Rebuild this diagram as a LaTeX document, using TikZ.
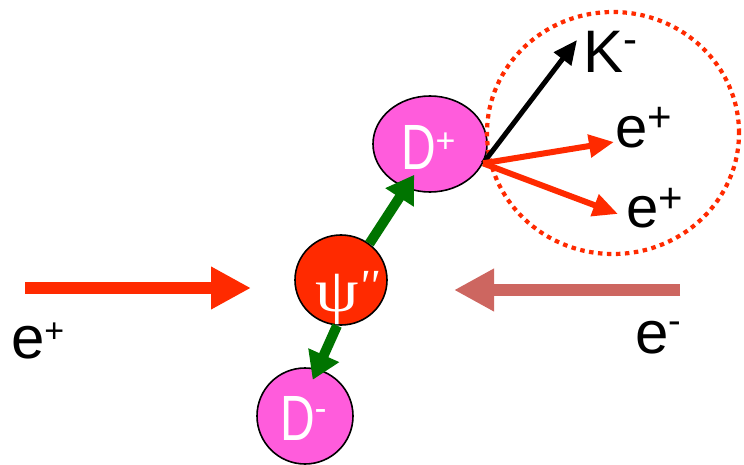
\documentclass[tikz,border=0pt]{standalone}
\usepackage{fontspec}
\setmainfont{Liberation Sans}
\newfontfamily\psifont{Liberation Serif}
\usetikzlibrary{arrows.meta,shapes.geometric}
\definecolor{pinkD}{HTML}{FF5CDC}
\definecolor{redpsi}{HTML}{FF2A00}
\definecolor{greenA}{HTML}{007400}
\definecolor{rosered}{HTML}{CD6660}
\newcommand\upsc[3]{\raisebox{#2pt}{\fontsize{#1}{#1}\selectfont #3}}
\newcommand\narrowD{\scalebox{0.75}[1]{D}}
\tikzset{
  particle/.style={ellipse, draw=black, line width=1.6pt, inner sep=0pt},
  lbl/.style={anchor=base west, inner sep=0pt, outer sep=0pt},
  beam/.style={line width=12pt, -{Triangle[length=40pt,width=40pt]}},
  greenarrow/.style={greenA, line width=10pt, -{Triangle[length=27pt,width=32pt]}},
  kaon/.style={black, line width=5pt, -{Triangle[length=24pt,width=21pt]}},
  positron/.style={redpsi, line width=6pt, -{Triangle[length=25pt,width=22pt]}},
}
\begin{document}
\begin{tikzpicture}[x=1pt,y=-1pt]
\useasboundingbox (0,0) rectangle (744,465);
% particles
\node[particle, fill=pinkD, minimum width=114pt, minimum height=96pt] (Dp) at (430,144) {};
\node[particle, fill=redpsi, minimum width=92pt, minimum height=90pt] (psi) at (341,280) {};
\node[particle, fill=pinkD, minimum width=96pt, minimum height=96pt] (Dm) at (305,416) {};
% labels in particles
\node[lbl, text=white] (Dptext) at (401,170) {\fontsize{64}{64}\selectfont \narrowD\upsc{34}{17}{+}};
\node[lbl, text=white] (psitext) at (315,311) {\psifont\fontsize{62}{62}\selectfont \scalebox{1.12}[1]{ψ}\raisebox{10pt}{\itshape\fontsize{46}{46}\selectfont ''}};
\node[lbl, text=white] (Dmtext) at (280,440) {\fontsize{64}{64}\selectfont \narrowD\upsc{36}{20}{-}};
% dotted decay region
\draw[redpsi, line width=4.2pt, dash pattern=on 4.5pt off 4.5pt] (613,133) ellipse [x radius=126pt, y radius=121pt];
% green arrows
\draw[greenarrow, shorten >=-16pt] (psi.52) -- (Dp.241);
\draw[greenarrow, shorten >=-12pt] (psi.265) -- (Dm.75);
% decay products
\coordinate (dec) at (Dp.-20);
\coordinate (ktip) at (577,40);
\coordinate (e1tip) at (614,142);
\coordinate (e2tip) at (618,214);
\draw[kaon] (dec) -- (ktip);
\draw[positron] (dec) -- (e1tip);
\draw[positron] (dec) -- (e2tip);
\node[lbl] (Klbl) at (583,73) {\fontsize{60}{60}\selectfont K\upsc{42}{19}{-}};
\node[lbl] (e1lbl) at (615,148) {\fontsize{58}{58}\selectfont e\upsc{42}{16}{+}};
\node[lbl] (e2lbl) at (626,228) {\fontsize{58}{58}\selectfont e\upsc{42}{16}{+}};
% beams
\coordinate (lbs) at (25,288);
\coordinate (lbe) at (251,288);
\coordinate (rbs) at (680,290);
\coordinate (rbe) at (454,290);
\draw[beam, redpsi] (lbs) -- (lbe);
\draw[beam, rosered] (rbs) -- (rbe);
\node[lbl] (eplbl) at (11,358) {\fontsize{60}{60}\selectfont e\upsc{34}{16}{+}};
\node[lbl] (emlbl) at (635,353) {\fontsize{60}{60}\selectfont e\upsc{38}{20}{-}};
\end{tikzpicture}
\end{document}
